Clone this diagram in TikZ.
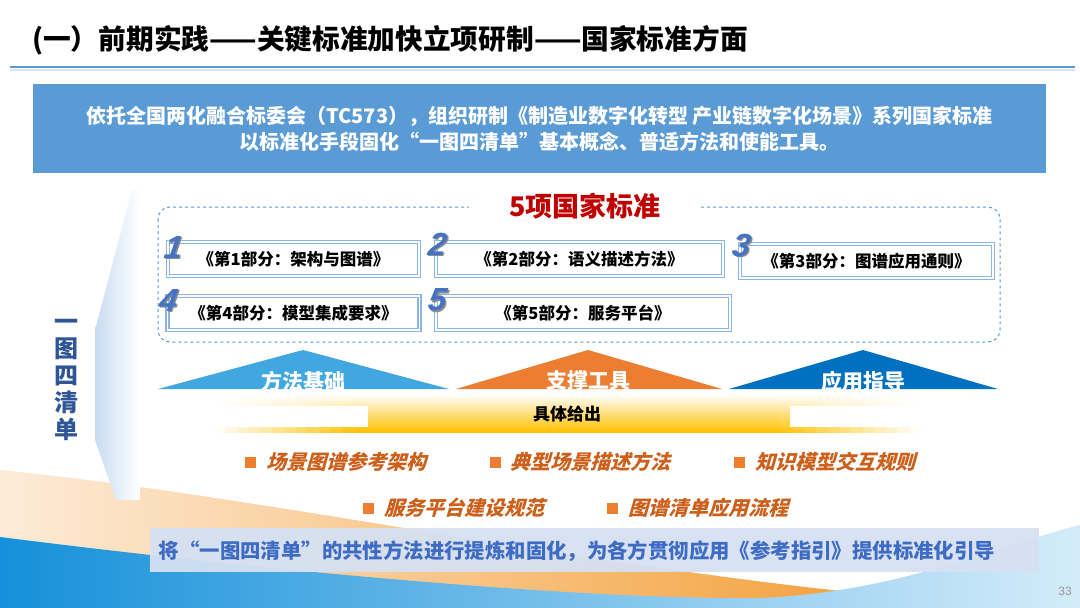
\documentclass[tikz,border=0pt]{standalone}
\usepackage{fontspec}
\setmainfont{Noto Sans CJK SC}
\newfontfamily\cjkit{Noto Sans CJK SC}[FakeSlant=0.28]
\newfontfamily\numf{Liberation Sans}
\newfontfamily\numit{Liberation Sans}[FakeSlant=0.15]
\definecolor{mblue}{HTML}{5B9BD5}
\definecolor{lblue}{HTML}{8DB4E2}
\definecolor{nblue}{HTML}{4472C4}
\definecolor{dblue}{HTML}{2F5597}
\definecolor{tri1}{HTML}{41A7E1}
\definecolor{tri2}{HTML}{ED7D31}
\definecolor{tri3}{HTML}{0070C0}
\definecolor{stdred}{HTML}{C00000}
\definecolor{bultxt}{HTML}{CC5F1A}
\definecolor{gold}{HTML}{FFC000}
\definecolor{bandc}{HTML}{D6E1F2}
\definecolor{bandtxt}{HTML}{3E6CC4}
\definecolor{peach}{HTML}{FDEBD8}
\definecolor{orng}{HTML}{F4A340}
\definecolor{wblue}{HTML}{1590DA}
\definecolor{wlight}{HTML}{D4ECFA}
\definecolor{brk}{HTML}{C8DCF2}
\tikzset{
  stdbox/.style={draw=lblue, line width=1.2pt, double=white, double distance=1.8pt,
    minimum height=34pt, inner sep=0pt, text=black, font=\fontsize{16.5}{19}\selectfont\bfseries},
  numlbl/.style={text=nblue, font=\numit\fontsize{32}{32}\selectfont\bfseries\itshape, inner sep=0pt},
  numshadow/.style={text=black!45, font=\numit\fontsize{32}{32}\selectfont\bfseries\itshape, inner sep=0pt},
  trilbl/.style={text=white, font=\fontsize{21}{24}\selectfont\bfseries, inner sep=0pt},
  bsq/.style={fill=tri2, minimum size=11pt, inner sep=0pt},
  btxt/.style={anchor=west, text=bultxt, font=\cjkit\fontsize{20}{24}\selectfont\bfseries, inner sep=0pt},
}
\begin{document}
\begin{tikzpicture}[x=1pt,y=-1pt]
\useasboundingbox (0,0) rectangle (1080,608);
\fill[white] (0,0) rectangle (1080,608);
% bottom waves
\shade[left color=peach, right color=orng] (0,470) .. controls (250,495) and (550,560) .. (850,592) -- (850,608) -- (0,608) -- cycle;
\shade[left color=wblue, right color=wlight] (0,537) .. controls (300,575) and (600,600) .. (760,598) .. controls (900,592) and (1000,545) .. (1080,525) -- (1080,608) -- (0,608) -- cycle;
% left bracket wedge
\shade[left color=brk, right color=white] (132,190) -- (95,330) -- (95,440) -- (116,500) -- (140,500) -- (140,190) -- cycle;
% title
\node[anchor=west, inner sep=0pt, font=\fontsize{27.7}{32}\selectfont\bfseries] (title) at (32,40) {(一）前期实践——关键标准加快立项研制——国家标准方面};
\draw[mblue, line width=2.5pt] (10,67) -- (1075,67);
\draw[mblue!25, line width=1.5pt] (10,70) -- (1075,70);
% intro box
\node[fill=mblue, minimum width=1013pt, minimum height=89pt, text=white, align=center,
  font=\fontsize{20}{26}\selectfont\bfseries] (intro) at (539.5,128.5)
  {依托全国两化融合标委会（TC573），组织研制《制造业数字化转型 产业链数字化场景》系列国家标准\\以标准化手段固化“一图四清单”基本概念、普适方法和使能工具。};
% dashed frame
\draw[mblue, dashed, line width=1pt, rounded corners=12pt] (158,207) rectangle (1000,342);
\node[fill=white, inner xsep=40pt, inner ysep=2pt, text=stdred, font=\fontsize{27}{30}\selectfont\bfseries] (stdtitle) at (585,206) {5项国家标准};
% standards boxes
\node[stdbox, minimum width=251pt] (b1) at (293.5,259) {《第1部分：架构与图谱》};
\node[stdbox, minimum width=287pt] (b2) at (579.5,259) {《第2部分：语义描述方法》};
\node[stdbox, minimum width=253pt] (b3) at (866.5,261) {《第3部分：图谱应用通则》};
\node[stdbox, minimum width=252pt] (b4) at (293.5,313) {《第4部分：模型集成要求》};
\node[stdbox, minimum width=294pt] (b5) at (583,313) {《第5部分：服务平台》};
% numbers
\node[numshadow] (n1s) at (173.5,248.5) {1};
\node[numlbl] (n1) at (172,247) {1};
\node[numshadow] (n2s) at (437.5,245.5) {2};
\node[numlbl] (n2) at (436,244) {2};
\node[numshadow] (n3s) at (741.5,246.5) {3};
\node[numlbl] (n3) at (740,245) {3};
\node[numshadow] (n4s) at (168.5,301.5) {4};
\node[numlbl] (n4) at (167,300) {4};
\node[numshadow] (n5s) at (437.5,301.5) {5};
\node[numlbl] (n5) at (436,300) {5};
% vertical label
\node[text=dblue, align=center, inner sep=0pt, font=\fontsize{24}{27}\selectfont\bfseries] (yitu) at (66,380) {一\\图\\四\\清\\单};
% triangles
\fill[tri1] (158,389) -- (303,350) -- (449,389) -- cycle;
\fill[tri2] (456,389) -- (588,350) -- (722,389) -- cycle;
\fill[tri3] (729,389) -- (863,350) -- (998,389) -- cycle;
\begin{scope}
\clip (0,0) rectangle (1080,389);
\node[trilbl] (t1) at (303,381) {方法基础};
\node[trilbl] (t2) at (588,381) {支撑工具};
\node[trilbl] (t3) at (863,381) {应用指导};
\end{scope}
% gold bar (vertical gradient, fading out towards both ends)
\shade[top color=white, bottom color=gold] (354,394) rectangle (781,432);
\foreach \k in {0,...,11} {
  \pgfmathsetmacro{\pc}{(\k+0.5)*100/12}
  \pgfmathsetmacro{\xl}{214+\k*11.7}
  \pgfmathsetmacro{\xr}{921-\k*11.7}
  \shade[top color=white, bottom color=gold!\pc] (\xl,394) rectangle ++(12.2,38);
  \shade[top color=white, bottom color=gold!\pc] (\xr,394) rectangle ++(-12.2,38);
}
\fill[white] (210,406) rectangle (368,427);
\fill[white] (790,406) rectangle (925,427);
\node[inner sep=0pt, font=\fontsize{17}{20}\selectfont\bfseries] (give) at (567,414) {具体给出};
% bullets
\node[bsq] (s1) at (250.5,462) {};
\node[btxt] (l1) at (266,462) {场景图谱参考架构};
\node[bsq] (s2) at (495,462) {};
\node[btxt] (l2) at (510,462) {典型场景描述方法};
\node[bsq] (s3) at (739.5,462) {};
\node[btxt] (l3) at (755,462) {知识模型交互规则};
\node[bsq] (s4) at (368.5,508) {};
\node[btxt] (l4) at (384,508) {服务平台建设规范};
\node[bsq] (s5) at (612.5,508) {};
\node[btxt] (l5) at (628,508) {图谱清单应用流程};
% bottom band
\fill[bandc, opacity=0.95] (150,528) rectangle (1039,572);
\node[inner sep=0pt, text=bandtxt, font=\fontsize{20.4}{24}\selectfont\bfseries] (band) at (577,551) {将“一图四清单”的共性方法进行提炼和固化，为各方贯彻应用《参考指引》提供标准化引导};
% page number
\node[inner sep=0pt, text=black!40, font=\numf\fontsize{12}{14}\selectfont] (page) at (1065,591) {33};
\end{tikzpicture}
\end{document}
